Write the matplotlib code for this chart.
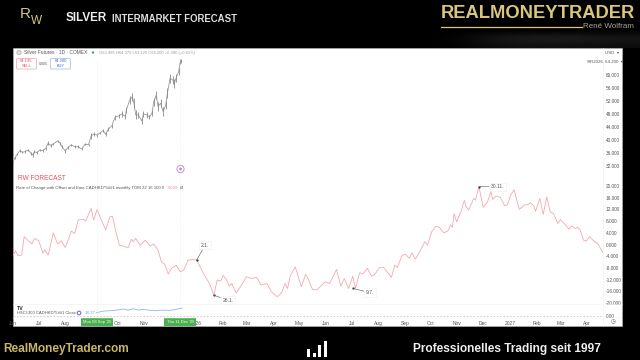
import matplotlib
matplotlib.use("Agg")
import matplotlib.pyplot as plt
from matplotlib.patches import Rectangle, Circle, FancyBboxPatch

# days counted from 1 Jun 2025
price_days = [0,2,5,8,11,14,18,21,23,25,28,31,35,38,41,44,47,52,55,57,61,64,68,72,76,80,84,88,91,94,98,101,105,108,111,115,119,123,127,131,132,136,139,141,143,146,150,152,156,159,162,164,167,169,172,175,178,180,183,186,188,190,193,195,196]
price_close = [33.1,34.4,35.7,36.7,36.2,36.4,36.9,35.9,35.4,36.4,36.1,36.9,36.7,37.4,39.0,38.3,38.8,39.7,39.0,37.9,36.6,37.7,38.5,37.9,37.9,37.2,38.7,38.5,41.2,41.8,41.5,42.1,42.9,41.7,43.3,44.3,47.0,47.4,48.0,47.2,49.2,52.3,53.3,51.3,47.7,47.7,45.9,48.0,47.7,47.0,48.2,51.8,53.8,50.3,51.3,48.7,50.8,54.4,59.0,58.5,57.4,59.0,61.0,64.1,64.4]
# high-low half range of the bars, by eye
price_spread = [0.5,0.4,0.4,0.4,0.3,0.4,0.4,0.4,0.5,0.4,0.4,0.4,0.4,0.4,0.6,0.4,0.4,0.4,0.5,0.5,0.5,0.4,0.4,0.4,0.4,0.4,0.4,0.4,0.8,0.5,0.5,0.4,0.5,0.6,0.6,0.6,0.8,0.7,0.8,0.9,1.0,1.3,1.3,1.5,1.4,1.0,1.0,0.9,0.8,0.7,0.9,1.2,1.2,1.3,1.2,1.3,1.2,1.5,1.4,1.2,1.4,1.3,1.0,0.8,0.6]

roc_days = [0,3,6,10,13,18,22,25,30,35,37,41,47,52,56,61,68,72,76,81,85,91,94,98,103,108,113,116,119,124,129,134,138,140,143,148,154,160,164,169,173,177,181,185,190,195,199,204,209,214,218,223,229,234,238,242,245,249,252,255,260,265,272,278,284,289,296,301,308,313,317,320,323,329,336,341,344,349,354,358,
    364,369,377,382,386,391,396,399,404,408,413,418,422,427,432,441,445,448,453,457,462,465,469,474,480,483,488,493,497,502,507,510,512,514,517,522,526,528,531,537,539,543,548,553,557,559,563,568,573,576,580,584,590,596,600,603,607,609,614,618,622,626,630,635,638,644,648,651,655,658,661,665,668,672,677,682,688]
roc_values = [-3.6,-2.2,-3.8,-3.6,2.7,1.3,0.2,2.1,1.3,-3.0,-1.7,-3.6,4.0,0.2,1.3,-1.0,4.6,3.8,8.4,8.7,8.1,12.4,8.4,12.0,8.4,5.0,9.5,9.7,5.5,-0.2,-0.5,-1.1,1.8,1.0,2.1,-0.2,1.5,-0.5,0.2,-1.9,-5.9,-6.8,-10.1,-8.1,-7.0,-9.3,-8.7,-5.3,-5.1,-5.3,-7.6,-10.4,-13.3,-17.3,-12.1,-12.5,-10.5,-12.1,-14.2,-13.3,-16.5,-14.4,-11.0,-11.6,-11.2,-13.8,-13.3,-16.1,-17.8,-16.5,-13.3,-15.0,-10.8,-7.6,-14.4,-10.2,-11.6,-15.3,-15.5,-14.4,
    -12.7,-13.3,-8.5,-14.2,-11.6,-15.0,-10.8,-15.0,-9.6,-9.9,-8.1,-10.8,-10.1,-7.8,-7.8,-11.2,-7.0,-7.8,-3.9,-3.2,-4.7,-2.8,-5.0,-2.4,1.0,-0.2,4.4,6.3,5.9,4.0,4.7,6.7,5.9,10.6,7.8,11.2,15.2,12.9,11.8,15.8,15.2,19.8,12.7,14.6,18.1,15.4,16.6,16.1,13.3,13.5,16.9,18.8,12.0,13.5,13.7,14.3,13.2,11.4,15.8,10.3,16.3,11.2,10.6,7.2,8.6,6.7,5.2,6.4,5.5,5.9,5.0,1.5,1.2,2.7,1.2,0.1,-3.0]

pane_days = [97,105,113,121,129,134,140,146,152,160,167,175,183,191,197]
pane_values = [6.7,10.8,11.7,13.3,15.8,13.3,16.7,13.3,15.0,12.5,11.7,13.3,12.5,15.8,18.4]

month_days = [0,30,61,122,153,214,245,273,304,334,365,395,426,457,487,518,548,579,610,638,669]
month_labels = ["Jun","Jul","Aug","Oct","Nov","2026","Feb","Mar","Apr","May","Jun","Jul","Aug","Sep","Oct","Nov","Dec","2027","Feb","Mar","Apr"]
price_ticks = [32,36,40,44,48,52,56,60]
roc_ticks = [20,16,12,8,4,0,-4,-8,-12,-16,-20]

# day, value, label, text offset in px
callouts = [(214,-5.3,"2.1.",8.5,15),(234,-17.3,"26.1.",14,-5),(396,-15.0,"9.7.",17,-4),(543,19.8,"30.11.",19,0)]
crosshairs = [(98,"Mon 08 Sep '25"),(195,"Thu 11 Dec '25")]
logo_bars = [(307,8),(313,4),(318,12),(323.5,16)]

GOLD = "#d8c67c"
ROC = "#f4a8ae"
GREY = "#555555"
W, H = 640, 360

plt.rcParams["font.family"] = ["Liberation Sans", "DejaVu Sans"]
fig = plt.figure(figsize=(6.4, 3.6), dpi=100, facecolor="black")


def px_axes(x0, y0, x1, y1, **kw):
	return fig.add_axes([x0/W, 1-y1/H, (x1-x0)/W, (y1-y0)/H], **kw)


bg = px_axes(0, 0, W, H)
bg.axis("off")
bg.imshow([[0,0,0,0,0],[0,0.1,0.13,0.13,0.1],[0,0.05,0.06,0.06,0.05]], extent=(430, 640, 48, 28), aspect="auto",
	cmap="gray", vmin=0, vmax=1, interpolation="bicubic", zorder=0)
bg.set_xlim(0, W)
bg.set_ylim(H, 0)
bg.add_patch(Rectangle((13, 48), 609, 278, fc="white", ec="#bbbbbb", lw=0.4))

# header / footer
bg.text(66, 18, "SILVER", color="#eeeeee", fontsize=8.4, fontweight="bold", va="center")
bg.text(112, 18.5, "INTERMARKET FORECAST", color="#dddddd", fontsize=6.95, fontweight="bold", va="center")
bg.text(20, 14, "R", color=GOLD, fontsize=11, va="center")
bg.text(31, 20.5, "W", color=GOLD, fontsize=8.5, va="center")
bg.text(441, 14, "REALMONEYTRADER", color=GOLD, fontsize=13.2, fontweight="bold", va="center")
bg.plot([441, 582], [26.5, 26.5], color=GOLD, lw=0.9)
bg.text(583, 26.5, "René Wolfram", color="#aaa68f", fontsize=5.75, va="center")
bg.text(3, 349, "RealMoneyTrader.com", color="#c8b66a", fontsize=8.6, fontweight="bold", va="center")
bg.text(413, 349, "Professionelles Trading seit 1997", color="#eeeeee", fontsize=8.6, fontweight="bold", va="center")
for bx, bh in logo_bars:
	bg.add_patch(Rectangle((bx, 357-bh), 3, bh, fc="white", ec="none"))

# price pane
ax1 = px_axes(13, 48, 603, 177)
ax1.set_xlim(0, 687.6)
ax1.set_ylim(28.6, 68.3)
ax1.patch.set_alpha(0)
ax1.plot(price_days, price_close, color="#9a9a9a", lw=0.6)
ax1.vlines(price_days, [c-s for c, s in zip(price_close, price_spread)], [c+s for c, s in zip(price_close, price_spread)], color="#8a8a8a", lw=0.6)
ax1.set_xticks([])
ax1.yaxis.tick_right()
ax1.set_yticks(price_ticks)
ax1.set_yticklabels(["%.3f" % t for t in price_ticks])
ax1.tick_params(axis="y", length=0, pad=2, labelsize=3.4, labelcolor=GREY)

# roc pane
ax2 = px_axes(13, 177, 603, 304)
ax2.set_xlim(0, 687.6)
ax2.set_ylim(-20.3, 23.1)
ax2.patch.set_alpha(0)
ax2.plot(roc_days, roc_values, color=ROC, lw=0.6)
ax2.set_xticks([])
ax2.yaxis.tick_right()
ax2.set_yticks(roc_ticks)
ax2.set_yticklabels(["%.3f" % t for t in roc_ticks])
ax2.tick_params(axis="y", length=0, pad=2, labelsize=3.4, labelcolor=GREY)
for d, v, label, dx, dy in callouts:
	ax2.annotate(label, xy=(d, v), xytext=(dx*0.72, dy*0.72), textcoords="offset points",
		fontsize=3.6, color="#555555", ha="center", va="center",
		bbox=dict(fc="white", ec="#eeeeee", lw=0.4, pad=1.2),
		arrowprops=dict(arrowstyle="-", color="#555555", lw=0.4, shrinkA=0, shrinkB=0))
	ax2.plot([d], [v], ".", color="#333333", ms=1.2)

# small pane with date axis
ax3 = px_axes(13, 304, 603, 318)
ax3.set_xlim(0, 687.6)
ax3.set_ylim(-6.1, 28.2)
ax3.patch.set_alpha(0)
ax3.plot(pane_days, pane_values, color="#8fb4ee", lw=0.6)
ax3.axhline(0, color="#aaaaaa", lw=0.4, ls=(0, (3, 3)))
ax3.yaxis.tick_right()
ax3.set_yticks([0])
ax3.set_yticklabels(["0.00"])
ax3.set_xticks(month_days)
ax3.set_xticklabels(month_labels)
ax3.tick_params(axis="y", length=0, pad=2, labelsize=3.4, labelcolor=GREY)
ax3.tick_params(axis="x", length=0, pad=2, labelsize=3.5, labelcolor=GREY)

for ax in (ax1, ax2, ax3):
	for s in ax.spines.values():
		s.set_visible(False)

# overlay for crosshairs, labels, legends
top = px_axes(0, 0, W, H)
top.set_xlim(0, W)
top.set_ylim(H, 0)
top.axis("off")
top.patch.set_alpha(0)
for d, label in crosshairs:
	xp = 13 + d*590/687.6
	top.plot([xp, xp], [60, 318], color="#dddddd", lw=0.4, ls=(0, (1, 2)))
	top.add_patch(Rectangle((xp-16, 318), 32, 8, fc="#4caf50", ec="none"))
	top.text(xp, 322, label, color="white", fontsize=3.0, ha="center", va="center")

top.plot([603, 603], [48, 326], color="#f0f0f0", lw=0.4)
top.plot([13, 622], [304, 304], color="#f0f0f0", lw=0.4)
top.plot([13, 622], [318, 318], color="#f4f4f4", lw=0.3)

top.add_patch(Circle((19, 52.5), 2.2, fc="#dddddd", ec="#888888", lw=0.3))
top.text(24, 53, "Silver Futures · 1D · COMEX", color="#555555", fontsize=3.5, va="center")
top.add_patch(Circle((93, 52.5), 1.2, fc="#22aa77", ec="none"))
top.text(99, 53, "O63.985 H64.375 L63.125 C64.200 +0.390 (+0.61%)", color="#999999", fontsize=3.0, va="center")
top.add_patch(FancyBboxPatch((16.5, 58.5), 20, 10.5, boxstyle="round,pad=0,rounding_size=1.2", fc="white", ec="#f0a0a8", lw=0.5))
top.text(26.5, 61.5, "64.195", color="#e0505b", fontsize=3.0, ha="center", va="center")
top.text(26.5, 66, "SELL", color="#e0505b", fontsize=2.8, ha="center", va="center")
top.text(43.5, 64, "0.005", color="#555555", fontsize=2.6, ha="center", va="center")
top.add_patch(FancyBboxPatch((50.5, 58.5), 20, 10.5, boxstyle="round,pad=0,rounding_size=1.2", fc="white", ec="#a0b4f0", lw=0.5))
top.text(60.5, 61.5, "64.200", color="#4060d8", fontsize=3.0, ha="center", va="center")
top.text(60.5, 66, "BUY", color="#4060d8", fontsize=2.8, ha="center", va="center")
top.text(605, 53, "USD  ▾", color=GREY, fontsize=3.2, va="center")
top.text(587, 62, "SIR2026", color=GREY, fontsize=3.2, va="center")
top.text(605, 62, "64.200  ▾", color=GREY, fontsize=3.2, va="center")

top.add_patch(Circle((180.5, 169), 3.6, fc="white", ec="#c080d8", lw=0.6))
top.add_patch(Circle((180.5, 169), 1.4, fc="#c080d8", ec="none"))
top.text(18, 178.5, "RW FORECAST", color="#e8505b", fontsize=4.7, va="center")
top.text(16, 188, "Rate of Change with Offset and Ema CADHKD*5##1 monthly TOM 22 16 100 0", color="#555555", fontsize=3.05, va="center")
top.text(168, 188, "0.039", color="#f08a90", fontsize=3.05, va="center")
top.text(180, 188, "Ø", color="#555555", fontsize=3.05, va="center")
top.text(17, 309, "TV", color="#222222", fontsize=3.8, fontweight="bold", va="center")
top.text(17, 313.5, "HSCI:300 CADHKD*5##1 Close", color="#555555", fontsize=3.0, va="center")
top.add_patch(Circle((79, 313), 1.8, fc="white", ec="#6060d8", lw=0.7))
top.text(85, 313.5, "18.37", color="#80a8ee", fontsize=3.2, va="center")
top.text(613, 322, "◷", color=GREY, fontsize=4, ha="center", va="center")

fig.savefig("out.png", dpi=100, facecolor="black")
